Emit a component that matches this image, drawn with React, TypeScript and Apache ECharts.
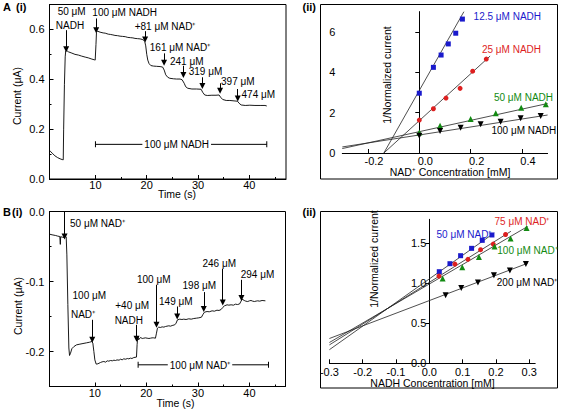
import React, { useEffect, useRef } from "react";
import * as echarts from "echarts";

const FONT = '"Liberation Sans", Arial, Helvetica, sans-serif';

// ---------- Panel A (i): amperometric trace, NADH then NAD+ additions ----------
const traceA: [number, number][] = [
  [1.04, 0.115], [1.3, 0.109], [1.7, 0.101], [2.1, 0.093], [2.6, 0.086], [3.1, 0.081], [3.5, 0.078], [3.72, 0.077],
  [3.8, 0.2], [3.95, 0.38], [4.1, 0.49], [4.2, 0.514], [4.35, 0.516],
  [4.75, 0.51], [5.4, 0.505], [6.0, 0.5], [6.7, 0.497], [7.3, 0.493], [8.0, 0.489], [8.6, 0.486], [9.3, 0.481], [9.8, 0.478], [9.95, 0.477],
  [10.1, 0.54], [10.2, 0.588], [10.4, 0.593], [10.9, 0.589], [11.5, 0.586], [11.9, 0.585], [12.5, 0.581], [12.9, 0.58], [13.4, 0.578],
  [13.8, 0.576], [14.3, 0.575], [14.8, 0.573], [15.3, 0.572], [15.8, 0.571], [16.3, 0.568], [16.8, 0.567], [17.3, 0.566], [17.7, 0.564],
  [18.2, 0.563], [18.7, 0.562], [19.1, 0.56], [19.4, 0.557],
  [19.6, 0.552], [19.8, 0.534], [20.0, 0.5], [20.2, 0.477], [20.45, 0.463], [20.8, 0.455], [21.3, 0.453], [21.9, 0.452], [22.6, 0.451], [23.1, 0.449],
  [23.4, 0.437], [23.7, 0.418], [24.1, 0.408], [24.5, 0.404], [25.2, 0.402], [25.8, 0.401], [26.5, 0.401], [26.9, 0.398],
  [27.3, 0.384], [27.6, 0.37], [28.0, 0.364], [28.8, 0.361], [29.7, 0.361], [30.6, 0.36],
  [30.9, 0.348], [31.3, 0.337], [31.8, 0.335], [32.7, 0.336], [33.5, 0.336], [34.1, 0.337],
  [34.4, 0.328], [34.8, 0.319], [35.5, 0.315], [36.2, 0.315], [37.2, 0.313], [37.7, 0.312],
  [38.0, 0.304], [38.4, 0.297], [39.2, 0.295], [40.1, 0.296], [41.1, 0.295], [42.1, 0.295], [43.05, 0.295], [43.4, 0.293],
];
// arrows: [time, from current, to current]
const arrowsA: [number, number, number][] = [
  [4.29, 0.597, 0.52], [10.14, 0.644, 0.597], [19.68, 0.593, 0.56], [23.38, 0.504, 0.466],
  [27.14, 0.454, 0.417], [30.85, 0.408, 0.373], [34.3, 0.384, 0.354], [37.74, 0.361, 0.323],
];
const barA: [number, number, number] = [10, 43.4, 0.139];

// ---------- Panel B (i) ----------
const traceB: [number, number][] = [
  [1.21, -0.0324], [1.7, -0.0333], [2.4, -0.0343], [2.8, -0.0352], [3.2, -0.0357], [3.3, -0.047], [3.37, -0.036], [3.7, -0.0367],
  [4.0, -0.0371], [4.25, -0.0348], [4.44, -0.0362],
  [4.57, -0.062], [4.76, -0.133], [4.96, -0.195], [5.09, -0.2057],
  [5.28, -0.2024], [5.54, -0.196], [5.93, -0.193], [6.44, -0.1905], [7.1, -0.1895], [7.7, -0.1886], [8.4, -0.1876], [9.0, -0.1867],
  [9.42, -0.1857], [9.61, -0.188],
  [9.81, -0.2], [10.0, -0.212], [10.26, -0.218], [10.58, -0.2176], [11.1, -0.2157], [11.4, -0.2148], [11.75, -0.2143], [12.1, -0.2152],
  [12.4, -0.2133], [12.7, -0.2138], [13.04, -0.2129], [13.4, -0.2133], [13.7, -0.2124], [14.0, -0.2129], [14.3, -0.212], [14.7, -0.2124],
  [15.0, -0.211], [15.3, -0.2119], [15.6, -0.2105], [16.0, -0.211], [16.3, -0.21], [16.6, -0.2105], [16.9, -0.2095], [17.2, -0.21],
  [17.56, -0.2086], [18.08, -0.208],
  [18.2, -0.19], [18.34, -0.1786], [18.5, -0.1833], [18.86, -0.18], [19.2, -0.1814], [19.5, -0.181], [19.8, -0.1805], [20.15, -0.181],
  [20.5, -0.1814], [20.8, -0.181], [21.1, -0.1805], [21.44, -0.1805], [21.76, -0.181],
  [21.96, -0.1738], [22.15, -0.1667], [22.4, -0.1652], [22.7, -0.1657], [23.06, -0.1648], [23.4, -0.1652], [23.7, -0.1643], [24.0, -0.1638],
  [24.35, -0.1633], [24.7, -0.1638], [25.0, -0.1629], [25.5, -0.1619],
  [25.77, -0.1595], [26.03, -0.1548], [26.48, -0.1538], [26.9, -0.1543], [27.26, -0.1538], [27.7, -0.1543], [28.23, -0.1533], [28.7, -0.1538],
  [29.2, -0.1529], [29.7, -0.1524], [30.17, -0.1519], [30.69, -0.151],
  [30.94, -0.1476], [31.27, -0.1438], [31.78, -0.1429], [32.2, -0.1433], [32.75, -0.1419], [33.2, -0.1424], [33.7, -0.141], [34.1, -0.1414], [34.5, -0.14],
  [34.82, -0.1371], [35.15, -0.1348], [35.66, -0.1333], [36.0, -0.1338], [36.44, -0.1333], [36.9, -0.1338], [37.28, -0.1324], [37.7, -0.1329], [38.1, -0.132],
  [38.38, -0.128], [38.57, -0.1252], [39.0, -0.1271], [39.3, -0.1281], [39.67, -0.1286], [40.0, -0.1276], [40.3, -0.1271], [40.6, -0.128],
  [40.96, -0.1286], [41.3, -0.128], [41.6, -0.1276], [42.0, -0.1281], [42.45, -0.1271], [43.1, -0.1276],
];
const arrowsB: [number, number, number][] = [
  [4.12, 0, -0.0357], [9.5, -0.1547, -0.1833], [18.09, -0.1619, -0.1819], [21.96, -0.1047, -0.1619],
  [25.98, -0.1357, -0.15], [31.14, -0.1151, -0.1394], [34.82, -0.0819, -0.13], [38.45, -0.0976, -0.1237],
];
const barB: [number, number, number] = [18.4, 43.7, -0.219];

// ---------- Panel A (ii): 1/normalized current vs NAD+ ----------
const nadh125: [number, number][] = [[0, 2.96], [0.055, 4.24], [0.085, 4.85], [0.113, 5.4], [0.142, 5.93], [0.168, 6.63]];
const nadh25: [number, number][] = [[0, 1.63], [0.055, 2.19], [0.104, 2.72], [0.159, 3.2], [0.208, 4.05], [0.261, 4.65]];
const nadh50: [number, number][] = [[0, 1.02], [0.081, 1.35], [0.2, 1.68], [0.298, 1.97], [0.397, 2.24], [0.493, 2.41]];
const nadh100: [number, number][] = [[0, 0.86], [0.081, 1.09], [0.161, 1.25], [0.239, 1.42], [0.317, 1.55], [0.395, 1.72], [0.473, 1.83]];
const fit125: [number, number][] = [[-0.138, 0], [0.174, 7.0]];
const fit25: [number, number][] = [[-0.138, 0], [0.276, 4.8]];
const fit50: [number, number][] = [[-0.3, 0.22], [0.5, 2.45]];
const fit100: [number, number][] = [[-0.3, 0.3], [0.5, 1.88]];

// ---------- Panel B (ii): 1/normalized current vs NADH ----------
const nad50: [number, number][] = [[0.03, 1.145], [0.062, 1.245], [0.094, 1.345], [0.127, 1.437], [0.159, 1.537], [0.188, 1.604]];
const nad75: [number, number][] = [[0.029, 1.09], [0.077, 1.24], [0.116, 1.3], [0.154, 1.42], [0.192, 1.49], [0.229, 1.61]];
const nad100: [number, number][] = [[0.04, 1.06], [0.099, 1.2], [0.149, 1.33], [0.196, 1.46], [0.244, 1.56], [0.292, 1.69]];
const nad200: [number, number][] = [[0.049, 0.85], [0.096, 0.94], [0.146, 1.01], [0.194, 1.1], [0.242, 1.16], [0.29, 1.24]];
const fitN50: [number, number][] = [[-0.3, 0.17], [0.195, 1.63]];
const fitN75: [number, number][] = [[-0.3, 0.23], [0.245, 1.65]];
const fitN100: [number, number][] = [[-0.3, 0.26], [0.295, 1.71]];
const fitN200: [number, number][] = [[-0.3, 0.31], [0.295, 1.25]];

// tick labels
const timeTicks = [10, 20, 30, 40];
const timeMinor = [15, 25, 35, 45];
const ticksAiY = [0, 0.2, 0.4, 0.6];
const minorAiY = [0.1, 0.3, 0.5];
const ticksBiY = [-0.2, -0.1, 0];
const minorBiY = [-0.25, -0.15, -0.05];
const ticksAiiX = [-0.2, 0, 0.2, 0.4];
const ticksAiiY = [0, 2, 4, 6];
const ticksBiiX = [-0.3, -0.2, -0.1, 0, 0.1, 0.2, 0.3];
const ticksBiiY = [0, 0.5, 1.0, 1.5];

const BLUE = "#1a1acc";
const RED = "#dd1f1f";
const GREEN = "#128a12";
const DOWN_TRI = "path://M0,0 L10,0 L5,9 Z";

const labelStyle = { color: "#000", fontSize: 11, fontFamily: FONT };

function axis(o: any) {
  const base: any = {
    type: "value",
    gridIndex: o.grid,
    min: o.min,
    max: o.max,
    splitLine: { show: false },
    axisLine: { show: o.line !== false, onZero: o.onZero ?? false, lineStyle: { color: "#000", width: 1 } },
    axisTick: {
      show: true,
      inside: o.inside ?? true,
      length: o.tickLen ?? 4,
      customValues: o.ticks,
      lineStyle: { color: "#000", width: 1 },
    },
    axisLabel: o.labels
      ? {
          show: true,
          customValues: o.ticks,
          margin: o.margin ?? 4,
          formatter: o.fmt,
          padding: o.pad,
          showMinLabel: true,
          showMaxLabel: true,
          hideOverlap: false,
          ...labelStyle,
        }
      : { show: false },
  };
  if (o.position) base.position = o.position;
  if (o.offset !== undefined) base.offset = o.offset;
  return base;
}

function text(t: string, x: number, y: number, opt: any = {}) {
  return {
    type: "text",
    x,
    y,
    z: 100,
    rotation: opt.rot || 0,
    style: {
      text: t,
      fill: opt.color || "#000",
      font: `${opt.weight || "normal"} ${opt.size || 10}px ${FONT}`,
      align: opt.align || "center",
      verticalAlign: "middle",
      backgroundColor: opt.bg,
      padding: opt.bg ? [0, 2] : undefined,
    },
  };
}

function fitSeries(data: [number, number][], xi: number) {
  return {
    type: "line",
    xAxisIndex: xi,
    yAxisIndex: xi,
    data,
    symbol: "none",
    silent: true,
    lineStyle: { color: "#222", width: 0.8 },
    z: 2,
  };
}

function scat(data: [number, number][], xi: number, color: string, symbol: string, size: number) {
  return {
    type: "scatter",
    xAxisIndex: xi,
    yAxisIndex: xi,
    data,
    symbol,
    symbolSize: size,
    itemStyle: { color, opacity: 1 },
    silent: true,
    z: 3,
  };
}

function arrowMarks(arr: [number, number, number][]) {
  return {
    silent: true,
    symbol: ["none", "triangle"],
    symbolSize: 6,
    label: { show: false },
    emphasis: { disabled: true },
    itemStyle: { color: "#000" },
    lineStyle: { color: "#000", width: 1, type: "solid" },
    data: arr.map(([t, a, b]) => [{ coord: [t, a] }, { coord: [t, b] }]),
  };
}

function barSeries(b: [number, number, number], xi: number) {
  return {
    type: "line",
    xAxisIndex: xi,
    yAxisIndex: xi,
    data: [[b[0], b[2]], [b[1], b[2]]],
    symbol: "rect",
    symbolSize: [1, 6],
    showSymbol: true,
    itemStyle: { color: "#000" },
    lineStyle: { color: "#000", width: 1 },
    silent: true,
  };
}

export default function App() {
  const ref = useRef<HTMLDivElement>(null);
  useEffect(() => {
    if (!ref.current) return;
    const chart = echarts.init(ref.current, undefined, { renderer: "svg" });
    const gridBox = { show: true, borderColor: "#000", borderWidth: 1, backgroundColor: "transparent" };
    // B(ii) y axis sits at x = 0: offset it from the grid's left edge
    const bLeft = 329.4;
    const bWidth = 205.8;
    const bxMin = -0.3;
    const bxMax = 0.318;
    const bZeroOffset = -((0 - bxMin) / (bxMax - bxMin)) * bWidth;
    const option: any = {
      animation: false,
      grid: [
        { left: 49.5, top: 4.5, width: 236.5, height: 174.5, ...gridBox },
        { left: 49.5, top: 211.5, width: 236, height: 175, ...gridBox },
        { left: 342.3, top: 11.6, width: 205.3, height: 141.4, show: false },
        { left: bLeft, top: 219.3, width: bWidth, height: 144, show: false },
      ],
      xAxis: [
        axis({ grid: 0, min: 1.04, max: 47.15, ticks: timeTicks, labels: true, margin: 0 }),
        axis({ grid: 1, min: 1.2, max: 47, ticks: timeTicks, labels: true, margin: 1 }),
        axis({ grid: 2, min: -0.3, max: 0.5, ticks: ticksAiiX, labels: true, margin: 2, onZero: true, fmt: (v: number) => v.toFixed(1), pad: [0, 0, 0, 12] }),
        axis({ grid: 3, min: bxMin, max: bxMax, ticks: ticksBiiX, labels: true, margin: 3, position: "bottom", fmt: (v: number) => v.toFixed(1) }),
        axis({ grid: 0, min: 1.04, max: 47.15, ticks: timeMinor, line: false, tickLen: 2, position: "bottom" }),
        axis({ grid: 1, min: 1.2, max: 47, ticks: timeMinor, line: false, tickLen: 2, position: "bottom" }),
      ],
      yAxis: [
        axis({ grid: 0, min: 0, max: 0.7, ticks: ticksAiY, labels: true, margin: 5, fmt: (v: number) => v.toFixed(1) }),
        axis({ grid: 1, min: -0.25, max: 0, ticks: ticksBiY, labels: true, margin: 5, fmt: (v: number) => v.toFixed(1) }),
        axis({ grid: 2, min: 0, max: 7, ticks: ticksAiiY, labels: true, inside: false, tickLen: 4, margin: 7, onZero: true, fmt: (v: number) => String(v) }),
        axis({ grid: 3, min: 0, max: 1.8, ticks: ticksBiiY, labels: true, inside: false, tickLen: 4, margin: 3, position: "left", offset: bZeroOffset, fmt: (v: number) => v.toFixed(1) }),
        axis({ grid: 0, min: 0, max: 0.7, ticks: minorAiY, line: false, tickLen: 2, position: "left" }),
        axis({ grid: 1, min: -0.25, max: 0, ticks: minorBiY, line: false, tickLen: 2, position: "left" }),
      ],
      series: [
        {
          type: "line",
          xAxisIndex: 0,
          yAxisIndex: 0,
          data: traceA,
          symbol: "none",
          silent: true,
          lineStyle: { color: "#000", width: 0.9 },
          markLine: arrowMarks(arrowsA),
        },
        barSeries(barA, 0),
        {
          type: "line",
          xAxisIndex: 1,
          yAxisIndex: 1,
          data: traceB,
          symbol: "none",
          silent: true,
          lineStyle: { color: "#000", width: 0.9 },
          markLine: arrowMarks(arrowsB),
        },
        barSeries(barB, 1),
        fitSeries(fit125, 2),
        fitSeries(fit25, 2),
        fitSeries(fit50, 2),
        fitSeries(fit100, 2),
        scat(nadh125, 2, BLUE, "rect", 5),
        scat(nadh25, 2, RED, "circle", 5),
        scat(nadh50, 2, GREEN, "triangle", 6),
        scat(nadh100, 2, "#000", DOWN_TRI, 6),
        fitSeries(fitN50, 3),
        fitSeries(fitN75, 3),
        fitSeries(fitN100, 3),
        fitSeries(fitN200, 3),
        scat(nad50, 3, BLUE, "rect", 5),
        scat(nad75, 3, RED, "circle", 5),
        scat(nad100, 3, GREEN, "triangle", 6),
        scat(nad200, 3, "#000", DOWN_TRI, 6),
      ],
      graphic: [
        { type: "rect", z: 50, shape: { x: 320.5, y: 4.5, width: 237, height: 174.5 }, style: { fill: "none", stroke: "#000", lineWidth: 1 } },
        { type: "rect", z: 50, shape: { x: 320.5, y: 211.5, width: 237, height: 176.5 }, style: { fill: "none", stroke: "#000", lineWidth: 1 } },
        // panel labels
        text("A", 3, 7, { size: 11, weight: "bold", align: "left" }),
        text("(i)", 16, 7, { size: 11, weight: "bold", align: "left" }),
        text("B", 3, 212, { size: 11, weight: "bold", align: "left" }),
        text("(i)", 12, 212, { size: 11, weight: "bold", align: "left" }),
        text("(ii)", 302.5, 7, { size: 11, weight: "bold", align: "left" }),
        text("(ii)", 302.5, 212, { size: 11, weight: "bold", align: "left" }),
        // axis titles
        text("Current (μA)", 17, 96, { size: 10.5, rot: Math.PI / 2 }),
        text("Time (s)", 177, 194, { size: 10.5 }),
        text("Current (μA)", 18, 306, { size: 10.5, rot: Math.PI / 2 }),
        text("Time (s)", 175.5, 403, { size: 10.5 }),
        text("1/Normalized current", 387, 75, { size: 10.5, rot: Math.PI / 2 }),
        text("NAD⁺ Concentration [mM]", 450, 172, { size: 10.5 }),
        text("1/Normalized current", 373.5, 259, { size: 10.5, rot: Math.PI / 2 }),
        text("NADH Concentration [mM]", 432.5, 383, { size: 10.5 }),
        // A(i) annotations
        text("50 μM", 71.7, 11.7),
        text("NADH", 70, 25),
        text("100 μM NADH", 124.7, 12.7),
        text("+81 μM NAD⁺", 165, 26.7),
        text("161 μM NAD⁺", 180, 47.3),
        text("241 μM", 186.7, 61),
        text("319 μM", 205.5, 71.7),
        text("397 μM", 237.8, 81),
        text("474 μM", 258.3, 94.3),
        text("100 μM NADH", 176.7, 144, { bg: "#fff" }),
        // B(i) annotations
        text("50 μM NAD⁺", 97.5, 223.3),
        text("100 μM", 89.3, 295.7),
        text("NAD⁺", 83, 314.3),
        text("+40 μM", 132.2, 305.7),
        text("NADH", 128.8, 320),
        text("100 μM", 153.7, 279),
        text("149 μM", 175.8, 301.3),
        text("198 μM", 199.3, 285.3),
        text("246 μM", 219.2, 263.3),
        text("294 μM", 257.5, 274),
        text("100 μM NAD⁺", 200, 365, { bg: "#fff" }),
        // A(ii) legends
        text("12.5 μM NADH", 507.3, 16, { color: BLUE }),
        text("25 μM NADH", 511.5, 49.3, { color: RED }),
        text("50 μM NADH", 523.5, 97.7, { color: GREEN }),
        text("100 μM NADH", 523.8, 130),
        // B(ii) legends
        text("50 μM NAD⁺", 464, 234.3, { color: BLUE }),
        text("75 μM NAD⁺", 522, 221, { color: RED }),
        text("100 μM NAD⁺", 527.5, 250, { color: GREEN }),
        text("200 μM NAD⁺", 527, 282.3),
      ],
    };
    chart.setOption(option);
    return () => chart.dispose();
  }, []);
  return (
    <div
      ref={ref}
      style={{ position: "absolute", left: 0, top: 0, width: 563, height: 411, background: "#fff" }}
    />
  );
}
